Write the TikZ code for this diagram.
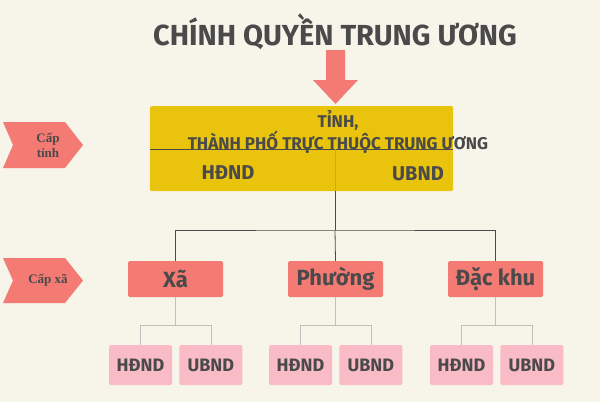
\documentclass[tikz,border=0pt]{standalone}
\usepackage{fontspec}
\setmainfont{Fira Sans}
\newfontfamily\labelfont{Liberation Serif}
\usetikzlibrary{positioning,shapes.symbols}
\definecolor{bgcream}{HTML}{F7F4EA}
\definecolor{salmon}{HTML}{F47A74}
\definecolor{gold}{HTML}{E9C30C}
\definecolor{pinklight}{HTML}{F9BBC6}
\definecolor{ink}{HTML}{4A4A4A}

\begin{document}
\begin{tikzpicture}[
x=1pt, y=-1pt,
font=\bfseries\sffamily,
unit/.style={fill=salmon, rounded corners=1.5pt, minimum width=95pt, minimum height=36pt, text=ink, font=\bfseries\fontsize{22}{22}\selectfont},
organ/.style={fill=pinklight, rounded corners=1.5pt, minimum width=63pt, minimum height=40pt, text=ink, font=\bfseries\fontsize{18}{18}\selectfont},
level/.style={fill=salmon, text=ink, font=\labelfont\bfseries\fontsize{13}{15}\selectfont, align=center},
main/.style={thick, ink},
branch/.style={thin, gray!50}
]
    % background and frame
    \fill[bgcream] (0,0) rectangle (600,402);
    \useasboundingbox (0,0) rectangle (600,402);

    % title and arrow
    \node[text=ink, font=\bfseries\fontsize{29}{29}\selectfont] (title) at (335,32) {CHÍNH QUYỀN TRUNG ƯƠNG};
    \fill[salmon] (326,50) -- (345,50) -- (345,80) -- (358,80) -- (335.5,104) -- (313,80) -- (326,80) -- cycle;

    % provincial level
    \fill[gold, rounded corners=1.5pt] (150,106) rectangle (453,191);
    \coordinate (split) at (335,149);
    \draw[main] (150,149) -- (453,149);
    \draw[gold!80!ink, thin] (split) -- (335,191);
    \node[text=ink, align=center, font=\bfseries\fontsize{17}{17}\selectfont] (tinh) at (338,132) {TỈNH,\\THÀNH PHỐ TRỰC THUỘC TRUNG ƯƠNG};
    \node[text=ink, font=\bfseries\fontsize{20}{20}\selectfont] (hdndT) at (228,173) {HĐND};
    \node[text=ink, font=\bfseries\fontsize{20}{20}\selectfont] (ubndT) at (418,174) {UBND};

    % level tags
    \fill[salmon] (3,122) -- (65,122) -- (83,145) -- (65,168) -- (3,168) -- (13,145) -- cycle;
    \node[level] (captinh) at (48,145) {Cấp\\tỉnh};
    \fill[salmon] (3,258) -- (65,258) -- (83,280.5) -- (65,303) -- (3,303) -- (13,280.5) -- cycle;
    \node[level] (capxa) at (48,280.5) {Cấp xã};

    % local units
    \node[unit] (xa) at (175.5,279) {Xã};
    \node[unit] (phuong) at (335.5,279) {Phường};
    \node[unit] (dackhu) at (495.5,279) {Đặc khu};

    \draw[main] (335,191) -- (335,230);
    \draw[main] (xa.north) |- (335,230) -| (dackhu.north);
    \draw[main] (335,230) -- (phuong.north);

    % councils and committees
    \foreach \u/\x in {xa/140.5, phuong/300.5, dackhu/461.5}{
        \node[organ] (hdnd-\u) at (\x,365) {HĐND};
        \node[organ, right=7pt of hdnd-\u] (ubnd-\u) {UBND};
        \draw[branch] (\u.south) -- ++(0,28) coordinate (fork-\u);
        \draw[branch] (hdnd-\u.north) |- (fork-\u) -| (ubnd-\u.north);
    }
\end{tikzpicture}
\end{document}
